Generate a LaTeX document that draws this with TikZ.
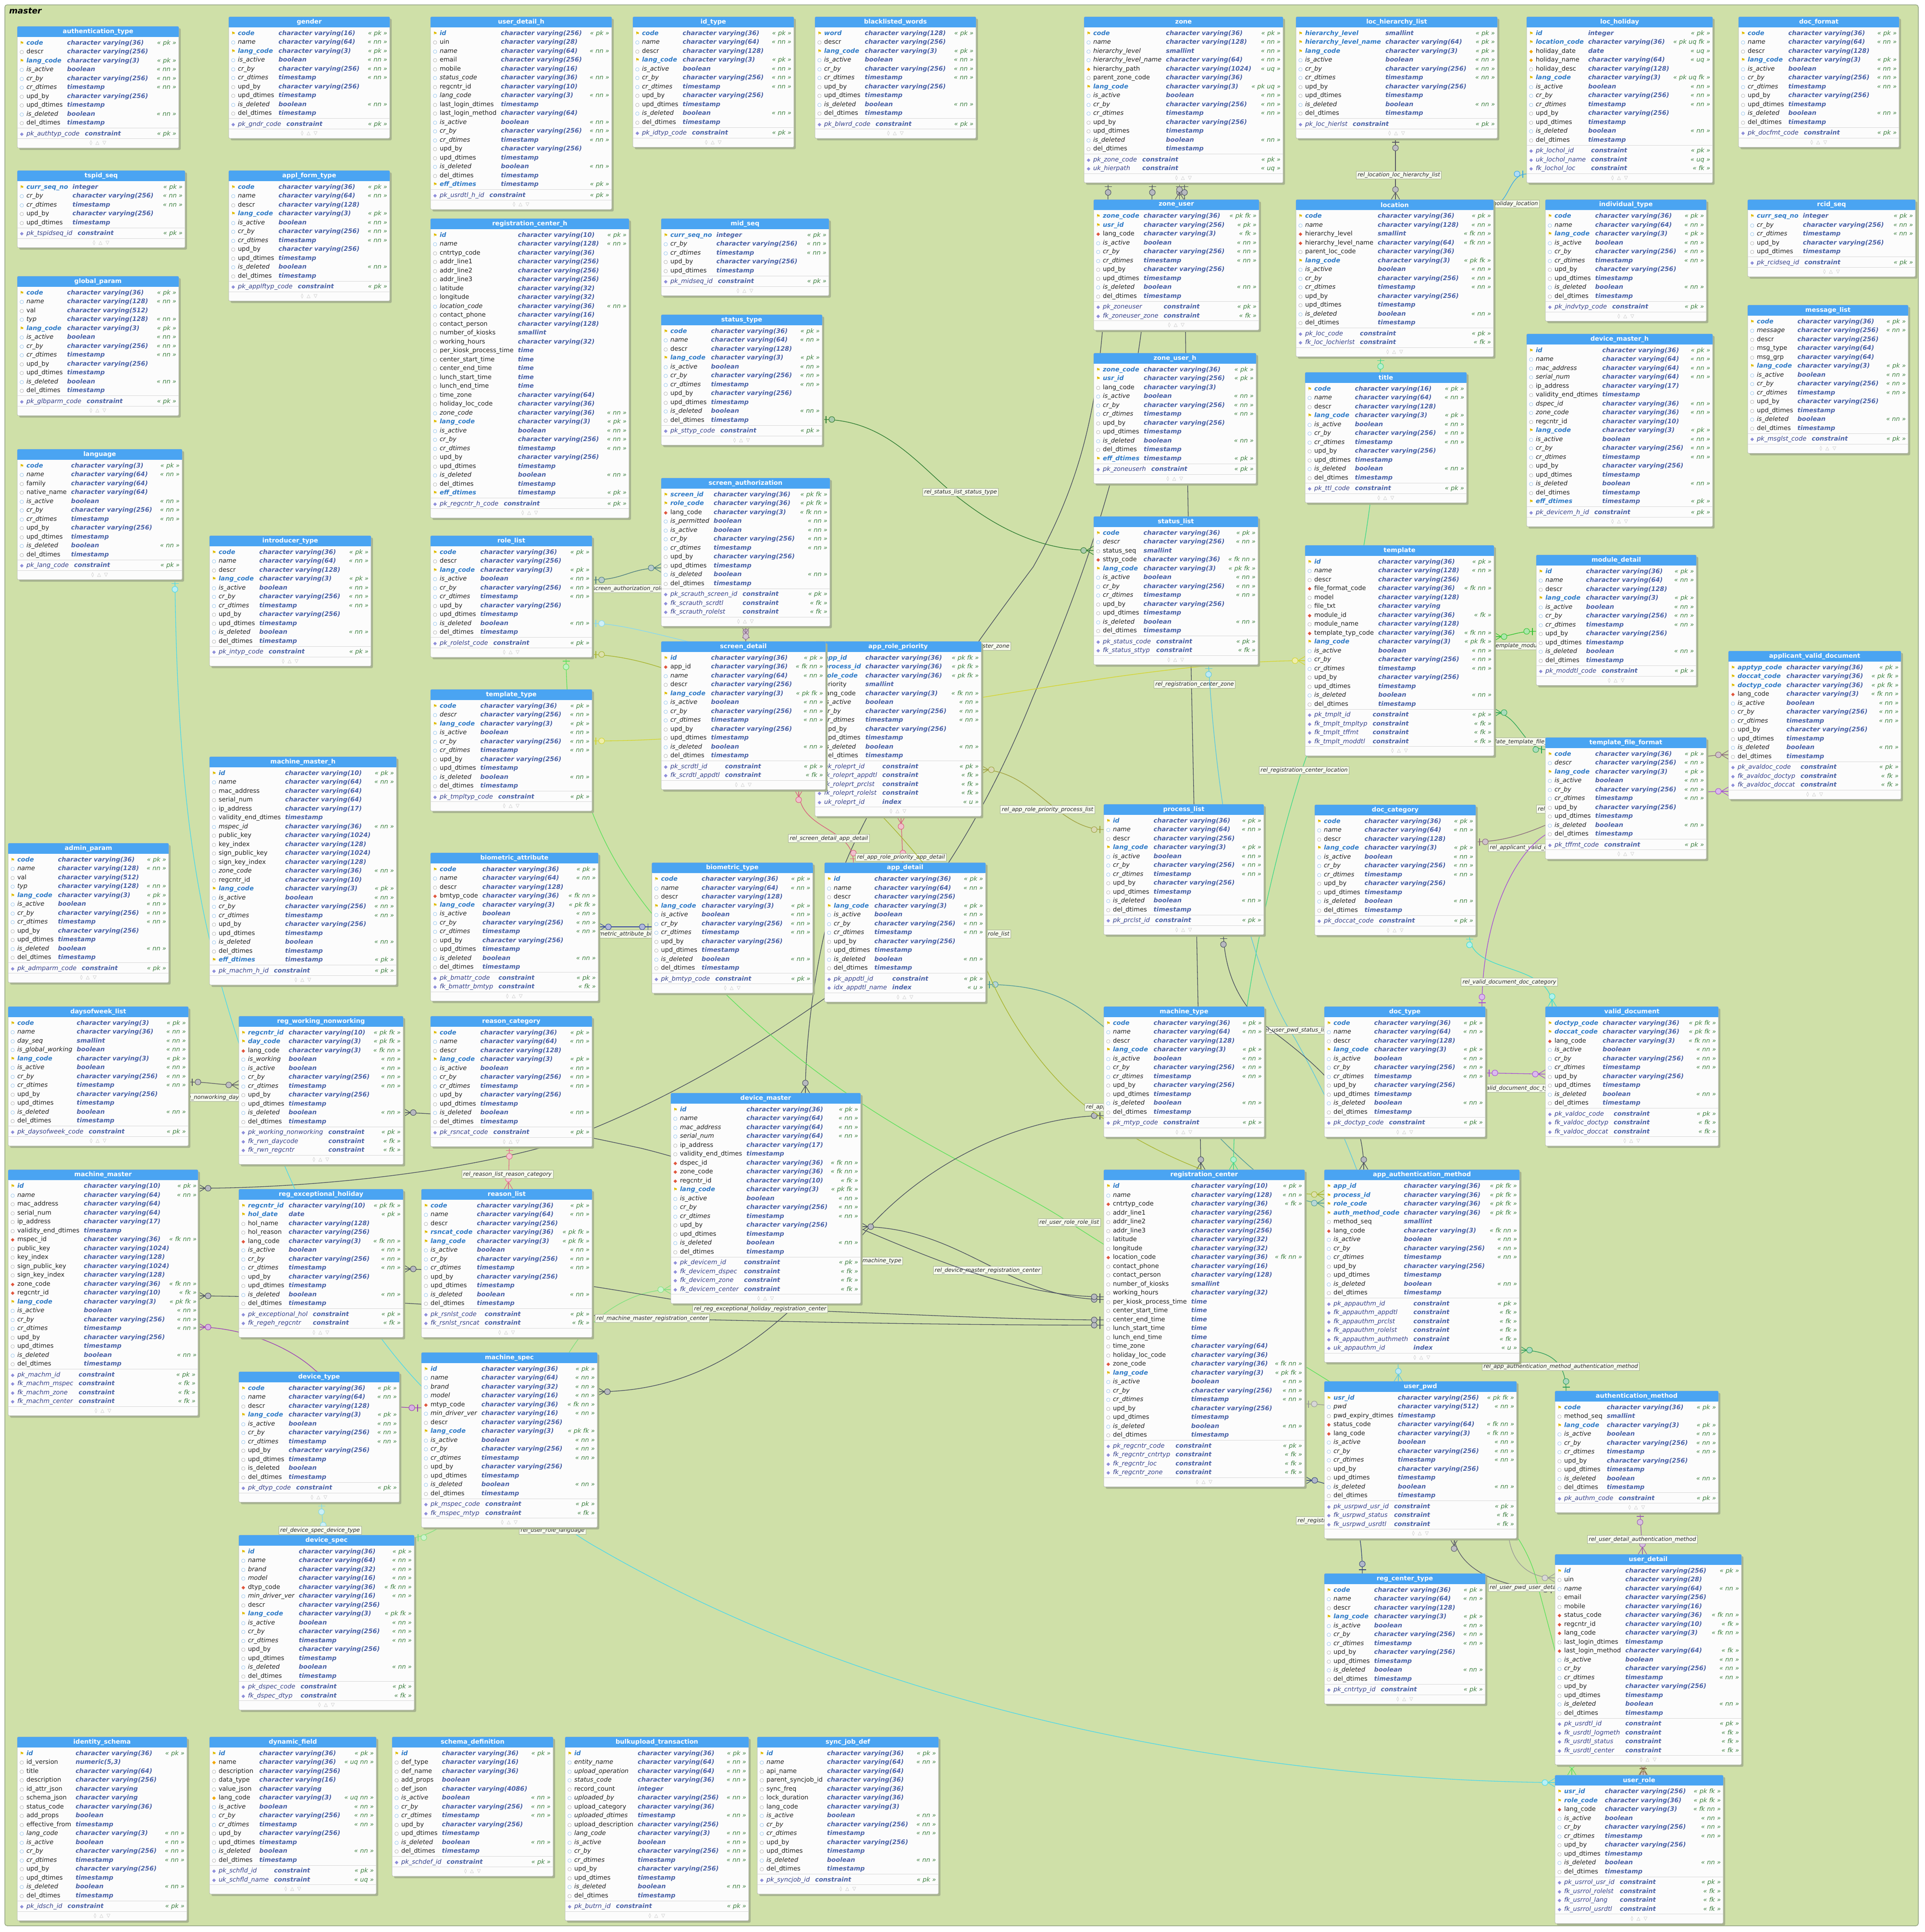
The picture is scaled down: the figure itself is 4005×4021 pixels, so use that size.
\documentclass[tikz,border=0pt]{standalone}
\usepackage{fontspec}
\setmainfont{DejaVu Sans}
\usetikzlibrary{calc}
\pgfdeclarelayer{bg}
\pgfdeclarelayer{conn}
\pgfsetlayers{bg,conn,main}

\definecolor{bgc}{HTML}{CFE0A8}
\definecolor{framec}{HTML}{9AAA88}
\definecolor{hdrc}{HTML}{4AA4F2}
\definecolor{boxb}{HTML}{B4B8B0}
\definecolor{boxf}{HTML}{FCFCFC}
\definecolor{shc}{HTML}{A7B38F}
\definecolor{sepc}{HTML}{D8D8D8}
\definecolor{ftc}{HTML}{B8B8B8}
\definecolor{pkc}{HTML}{2F7BC8}
\definecolor{tyc}{HTML}{4A62A8}
\definecolor{tgc}{HTML}{3D8040}
\definecolor{cnc}{HTML}{34408C}
\definecolor{keyc}{HTML}{E0BC00}
\definecolor{nnc}{HTML}{5CA6E6}
\definecolor{nlc}{HTML}{8C8C8C}
\definecolor{fkc}{HTML}{E0553C}
\definecolor{uqc}{HTML}{F2A600}
\definecolor{csc}{HTML}{8E8EDA}
\definecolor{txc}{HTML}{1E1E1E}
\definecolor{lblb}{HTML}{A8B098}
\definecolor{lblf}{HTML}{F6FAEC}
% connector colours
\definecolor{kGray}{HTML}{5C5C66}
\definecolor{kCyan}{HTML}{38A8E8}
\definecolor{kDark}{HTML}{4A5060}
\definecolor{kGreen}{HTML}{2E7D32}
\definecolor{kTeal}{HTML}{4E7E80}
\definecolor{kMauve}{HTML}{8D6E8E}
\definecolor{kPink}{HTML}{D9607F}
\definecolor{kOlive}{HTML}{A0A040}
\definecolor{kOlivetwo}{HTML}{A8B430}
\definecolor{kYellow}{HTML}{D4D430}
\definecolor{kBright}{HTML}{5EE05E}
\definecolor{kSpring}{HTML}{44D98A}
\definecolor{kGtwo}{HTML}{33C433}
\definecolor{kGthree}{HTML}{2EA858}
\definecolor{kMauvetwo}{HTML}{8A6A7E}
\definecolor{kPurple}{HTML}{A64FD6}
\definecolor{kTurq}{HTML}{3EDDD0}
\definecolor{kCyantwo}{HTML}{5CC8E0}
\definecolor{kGfour}{HTML}{2E9E5E}
\definecolor{kPurpletwo}{HTML}{9A5FB0}
\definecolor{kGfive}{HTML}{5A5A6A}
\definecolor{kBrown}{HTML}{8B6A4A}
\definecolor{kCyanthree}{HTML}{4DD8EA}
\definecolor{kCyanfour}{HTML}{80D8E8}
\definecolor{kLight}{HTML}{80E080}
\definecolor{kPurplethree}{HTML}{9C3FB8}
\definecolor{kPinktwo}{HTML}{E06A8A}
\definecolor{kNavy}{HTML}{3A4AA0}
\definecolor{kTealtwo}{HTML}{4E9A9A}
\definecolor{kNavytwo}{HTML}{3A4A7A}
\definecolor{kGraytwo}{HTML}{9A9A9A}
\definecolor{kCyanfive}{HTML}{88D8F0}

\tikzset{
  box/.style={draw=boxb, fill=boxf, rounded corners=2.5pt, inner sep=0pt, outer sep=0pt, line width=0.8pt},
  htx/.style={text=white, font=\fontsize{13}{15}\selectfont\bfseries, inner sep=0pt},
  rows/.style={anchor=north west, inner sep=0pt, outer sep=0pt, text=txc, font=\fontsize{13}{15}\selectfont},
  ftx/.style={text=ftc, font=\fontsize{10}{12}\selectfont, inner sep=0pt},
  sepl/.style={draw=sepc, line width=0.8pt},
  cn/.style={color=#1, line width=1.3pt},
  lbl/.style={draw=lblb, fill=lblf, text=black!85, font=\fontsize{11.5}{13}\selectfont\itshape, inner xsep=3pt, inner ysep=2.5pt, line width=0.8pt},
  mkcol/.store in=\mkc, mkcol=black,
  pone/.pic={\draw[color=\mkc, line width=1.3pt] (8,-7.5)--(8,7.5); \draw[color=\mkc, fill=\mkc!40, line width=1pt] (20,0) circle (6);},
  pmany/.pic={\draw[color=\mkc, line width=1.2pt] (0,-9)--(15,0)--(0,9) (0,0)--(15,0); \draw[color=\mkc, fill=\mkc!40, line width=1pt] (21,0) circle (6);},
}

\catcode`\_=12

% cell pieces
\newcommand\ico[2]{\makebox[11pt]{\fontsize{10}{10}\selectfont\color{#1}#2}}
\newcommand\ty[1]{{\color{tyc}\bfseries\itshape #1}}
\newcommand\tg[1]{{\color{tgc}\itshape « #1 »}}
\newcommand\sr{\vrule height 13.6pt depth 4.9pt width 0pt}
\newcommand\cv[1]{character varying(#1)}
% rows: key, not null, nullable, foreign key, unique, constraint, index
\newcommand\rk[3]{\sr\ico{keyc}{⚑} & {\color{pkc}\bfseries\itshape #1} & \ty{#2} & \tg{#3}\\}
\newcommand\rn[3]{\sr\ico{nnc}{○} & {\itshape #1} & \ty{#2} & \tg{#3}\\}
\newcommand\ro[2]{\sr\ico{nlc}{○} & #1 & \ty{#2} & \\}
\newcommand\rf[3]{\sr\ico{fkc}{◆} & #1 & \ty{#2} & \tg{#3}\\}
\newcommand\ru[3]{\sr\ico{uqc}{◆} & #1 & \ty{#2} & \tg{#3}\\}
\newcommand\rc[2]{\sr\ico{csc}{◆} & {\color{cnc}\itshape #1} & \ty{constraint} & \tg{#2}\\}
\newcommand\ri[2]{\sr\ico{csc}{◆} & {\color{cnc}\itshape #1} & \ty{index} & \tg{#2}\\}
% audit columns
\newcommand\aud{\rn{is_active}{boolean}{nn}\rn{cr_by}{\cv{256}}{nn}\rn{cr_dtimes}{timestamp}{nn}\ro{upd_by}{\cv{256}}\ro{upd_dtimes}{timestamp}\rn{is_deleted}{boolean}{nn}\ro{del_dtimes}{timestamp}}
\newcommand\auds{\rn{cr_by}{\cv{256}}{nn}\rn{cr_dtimes}{timestamp}{nn}\ro{upd_by}{\cv{256}}\ro{upd_dtimes}{timestamp}}

% table: id, x, y, width, columns, constraints, title, column rows, constraint rows
\newcommand\Tb[9]{%
  \pgfmathsetmacro\tbH{49.5+18.5*(#5+#6)}%
  \pgfmathsetmacro\tbA{24.5+18.5*#5}%
  \pgfmathsetmacro\tbB{24.5+18.5*(#5+#6)+4}%
  \fill[shc, rounded corners=2.5pt] (#2+4,#3+4) rectangle +(#4,\tbH);
  \node[box, minimum width=#4pt, minimum height=\tbH pt, anchor=north west] (#1) at (#2,#3) {};
  \fill[hdrc, rounded corners=2.5pt] (#2,#3) rectangle +(#4,21.5);
  \fill[hdrc] (#2,#3+10) rectangle +(#4,11.5);
  \node[htx] at (#2+#4/2,#3+11) {#7};
  \node[rows] at (#2+4,#3+24.5) {\begin{tabular*}{\dimexpr#4pt-9pt\relax}{@{}l@{\hspace{4pt}}l@{\hspace{9pt}}l@{\extracolsep{\fill}}r@{}}#8\end{tabular*}};
  \draw[sepl] (#2,#3+\tbA+2) -- +(#4,0);
  \node[rows] at (#2+4,#3+\tbA+4) {\begin{tabular*}{\dimexpr#4pt-9pt\relax}{@{}l@{\hspace{4pt}}l@{\hspace{11pt}}l@{\extracolsep{\fill}}r@{}}#9\end{tabular*}};
  \draw[sepl] (#2,#3+\tbB+1.5) -- +(#4,0);
  \node[ftx] at (#2+#4/2,#3+\tbH-10) {◊\hspace{7pt}△\hspace{7pt}▽};
}

% relation: colour, parent end, parent angle, child end, child angle, path
\newcommand\cx[6]{\draw[cn=#1] (#2) #6 (#4);\pic[mkcol=#1,rotate=#3] at (#2) {pone};\pic[mkcol=#1,rotate=#5] at (#4) {pmany};}

\begin{document}
\begin{tikzpicture}[x=1pt,y=-1pt]
\useasboundingbox (0,0) rectangle (4005,4021);
\begin{pgfonlayer}{bg}
\fill[white] (0,0) rectangle (4005,4021);
\filldraw[fill=bgc, draw=framec, line width=1.5pt, rounded corners=5pt] (10,10) rectangle (3992,4008);
\end{pgfonlayer}
\node[anchor=west, font=\fontsize{17}{20}\selectfont\bfseries\itshape, inner sep=0pt] (schemaname) at (19,22.5) {master};

% ---------------- tables ----------------
\Tb{authtype}{36}{55}{336}{10}{1}{authentication_type}{\rk{code}{\cv{36}}{pk}\ro{descr}{\cv{256}}\rk{lang_code}{\cv{3}}{pk}\aud}{\rc{pk_authtyp_code}{pk}}
\Tb{gender}{476}{35}{335}{10}{1}{gender}{\rk{code}{\cv{16}}{pk}\rn{name}{\cv{64}}{nn}\rk{lang_code}{\cv{3}}{pk}\aud}{\rc{pk_gndr_code}{pk}}
\Tb{udh}{896}{35}{377}{18}{1}{user_detail_h}{\rk{id}{\cv{256}}{pk}\ro{uin}{\cv{28}}\rn{name}{\cv{64}}{nn}\ro{email}{\cv{256}}\ro{mobile}{\cv{16}}\rn{status_code}{\cv{36}}{nn}\ro{regcntr_id}{\cv{10}}\rn{lang_code}{\cv{3}}{nn}\ro{last_login_dtimes}{timestamp}\ro{last_login_method}{\cv{64}}\aud\rk{eff_dtimes}{timestamp}{pk}}{\rc{pk_usrdtl_h_id}{pk}}
\Tb{idtype}{1317}{35}{335}{11}{1}{id_type}{\rk{code}{\cv{36}}{pk}\rn{name}{\cv{64}}{nn}\ro{descr}{\cv{128}}\rk{lang_code}{\cv{3}}{pk}\aud}{\rc{pk_idtyp_code}{pk}}
\Tb{blw}{1696}{35}{335}{10}{1}{blacklisted_words}{\rk{word}{\cv{128}}{pk}\ro{descr}{\cv{256}}\rk{lang_code}{\cv{3}}{pk}\aud}{\rc{pk_blwrd_code}{pk}}
\Tb{zone}{2256}{35}{414}{14}{2}{zone}{\rk{code}{\cv{36}}{pk}\rn{name}{\cv{128}}{nn}\rn{hierarchy_level}{smallint}{nn}\rn{hierarchy_level_name}{\cv{64}}{nn}\ru{hierarchy_path}{\cv{1024}}{uq}\ro{parent_zone_code}{\cv{36}}\rk{lang_code}{\cv{3}}{pk uq}\aud}{\rc{pk_zone_code}{pk}\rc{uk_hierpath}{uq}}
\Tb{lhl}{2697}{35}{419}{10}{1}{loc_hierarchy_list}{\rk{hierarchy_level}{smallint}{pk}\rk{hierarchy_level_name}{\cv{64}}{pk}\rk{lang_code}{\cv{3}}{pk}\aud}{\rc{pk_loc_hierlst}{pk}}
\Tb{lochol}{3177}{35}{387}{13}{3}{loc_holiday}{\rk{id}{integer}{pk}\rk{location_code}{\cv{36}}{pk uq fk}\ru{holiday_date}{date}{uq}\ru{holiday_name}{\cv{64}}{uq}\ro{holiday_desc}{\cv{128}}\rk{lang_code}{\cv{3}}{pk uq fk}\aud}{\rc{pk_lochol_id}{pk}\rc{uk_lochol_name}{uq}\rc{fk_lochol_loc}{fk}}
\Tb{docfmt}{3618}{35}{334}{11}{1}{doc_format}{\rk{code}{\cv{36}}{pk}\rn{name}{\cv{64}}{nn}\ro{descr}{\cv{128}}\rk{lang_code}{\cv{3}}{pk}\aud}{\rc{pk_docfmt_code}{pk}}
\Tb{tspid}{36}{355}{349}{5}{1}{tspid_seq}{\rk{curr_seq_no}{integer}{pk}\auds}{\rc{pk_tspidseq_id}{pk}}
\Tb{aft}{476}{355}{335}{11}{1}{appl_form_type}{\rk{code}{\cv{36}}{pk}\rn{name}{\cv{64}}{nn}\ro{descr}{\cv{128}}\rk{lang_code}{\cv{3}}{pk}\aud}{\rc{pk_applftyp_code}{pk}}
\Tb{rch}{896}{455}{413}{30}{1}{registration_center_h}{\rk{id}{\cv{10}}{pk}\rn{name}{\cv{128}}{nn}\ro{cntrtyp_code}{\cv{36}}\ro{addr_line1}{\cv{256}}\ro{addr_line2}{\cv{256}}\ro{addr_line3}{\cv{256}}\ro{latitude}{\cv{32}}\ro{longitude}{\cv{32}}\rn{location_code}{\cv{36}}{nn}\ro{contact_phone}{\cv{16}}\ro{contact_person}{\cv{128}}\ro{number_of_kiosks}{smallint}\ro{working_hours}{\cv{32}}\ro{per_kiosk_process_time}{time}\ro{center_start_time}{time}\ro{center_end_time}{time}\ro{lunch_start_time}{time}\ro{lunch_end_time}{time}\ro{time_zone}{\cv{64}}\ro{holiday_loc_code}{\cv{36}}\rn{zone_code}{\cv{36}}{nn}\rk{lang_code}{\cv{3}}{pk}\aud\rk{eff_dtimes}{timestamp}{pk}}{\rc{pk_regcntr_h_code}{pk}}
\Tb{glp}{36}{575}{336}{12}{1}{global_param}{\rk{code}{\cv{36}}{pk}\rn{name}{\cv{128}}{nn}\ro{val}{\cv{512}}\rn{typ}{\cv{128}}{nn}\rk{lang_code}{\cv{3}}{pk}\aud}{\rc{pk_glbparm_code}{pk}}
\Tb{lang}{36}{935}{343}{11}{1}{language}{\rk{code}{\cv{3}}{pk}\rn{name}{\cv{64}}{nn}\ro{family}{\cv{64}}\ro{native_name}{\cv{64}}\aud}{\rc{pk_lang_code}{pk}}
\Tb{midseq}{1376}{455}{349}{5}{1}{mid_seq}{\rk{curr_seq_no}{integer}{pk}\auds}{\rc{pk_midseq_id}{pk}}
\Tb{sttyp}{1376}{655}{335}{11}{1}{status_type}{\rk{code}{\cv{36}}{pk}\rn{name}{\cv{64}}{nn}\ro{descr}{\cv{128}}\rk{lang_code}{\cv{3}}{pk}\aud}{\rc{pk_sttyp_code}{pk}}
\Tb{zu}{2276}{415.5}{344}{10}{2}{zone_user}{\rk{zone_code}{\cv{36}}{pk fk}\rk{usr_id}{\cv{256}}{pk}\rf{lang_code}{\cv{3}}{fk}\aud}{\rc{pk_zoneuser}{pk}\rc{fk_zoneuser_zone}{fk}}
\Tb{zuh}{2276}{735}{338}{11}{1}{zone_user_h}{\rk{zone_code}{\cv{36}}{pk}\rk{usr_id}{\cv{256}}{pk}\ro{lang_code}{\cv{3}}\aud\rk{eff_dtimes}{timestamp}{pk}}{\rc{pk_zoneuserh}{pk}}
\Tb{loc}{2697}{415.5}{411}{13}{2}{location}{\rk{code}{\cv{36}}{pk}\rn{name}{\cv{128}}{nn}\rf{hierarchy_level}{smallint}{fk nn}\rf{hierarchy_level_name}{\cv{64}}{fk nn}\ro{parent_loc_code}{\cv{36}}\rk{lang_code}{\cv{3}}{pk fk}\aud}{\rc{pk_loc_code}{pk}\rc{fk_loc_lochierlst}{fk}}
\Tb{indtyp}{3216}{415.5}{335}{10}{1}{individual_type}{\rk{code}{\cv{36}}{pk}\rn{name}{\cv{64}}{nn}\rk{lang_code}{\cv{3}}{pk}\aud}{\rc{pk_indvtyp_code}{pk}}
\Tb{rcid}{3637}{415.5}{349}{5}{1}{rcid_seq}{\rk{curr_seq_no}{integer}{pk}\auds}{\rc{pk_rcidseq_id}{pk}}
\Tb{msg}{3637}{635}{334}{13}{1}{message_list}{\rk{code}{\cv{36}}{pk}\rn{message}{\cv{256}}{nn}\ro{descr}{\cv{256}}\ro{msg_type}{\cv{64}}\ro{msg_grp}{\cv{64}}\rk{lang_code}{\cv{3}}{pk}\aud}{\rc{pk_msglst_code}{pk}}
\Tb{title}{2716}{775}{336}{11}{1}{title}{\rk{code}{\cv{16}}{pk}\rn{name}{\cv{64}}{nn}\ro{descr}{\cv{128}}\rk{lang_code}{\cv{3}}{pk}\aud}{\rc{pk_ttl_code}{pk}}
\Tb{dmh}{3177}{695}{387}{18}{1}{device_master_h}{\rk{id}{\cv{36}}{pk}\rn{name}{\cv{64}}{nn}\rn{mac_address}{\cv{64}}{nn}\rn{serial_num}{\cv{64}}{nn}\ro{ip_address}{\cv{17}}\ro{validity_end_dtimes}{timestamp}\rn{dspec_id}{\cv{36}}{nn}\rn{zone_code}{\cv{36}}{nn}\ro{regcntr_id}{\cv{10}}\rk{lang_code}{\cv{3}}{pk}\aud\rk{eff_dtimes}{timestamp}{pk}}{\rc{pk_devicem_h_id}{pk}}
\Tb{intyp}{436}{1115}{336}{11}{1}{introducer_type}{\rk{code}{\cv{36}}{pk}\rn{name}{\cv{64}}{nn}\ro{descr}{\cv{128}}\rk{lang_code}{\cv{3}}{pk}\aud}{\rc{pk_intyp_code}{pk}}
\Tb{role}{896}{1115}{336}{10}{1}{role_list}{\rk{code}{\cv{36}}{pk}\ro{descr}{\cv{256}}\rk{lang_code}{\cv{3}}{pk}\aud}{\rc{pk_rolelst_code}{pk}}
\Tb{tmpltyp}{896}{1435}{336}{10}{1}{template_type}{\rk{code}{\cv{36}}{pk}\rn{descr}{\cv{256}}{nn}\rk{lang_code}{\cv{3}}{pk}\aud}{\rc{pk_tmpltyp_code}{pk}}
\Tb{mmh}{436}{1575}{389}{22}{1}{machine_master_h}{\rk{id}{\cv{10}}{pk}\rn{name}{\cv{64}}{nn}\ro{mac_address}{\cv{64}}\ro{serial_num}{\cv{64}}\ro{ip_address}{\cv{17}}\ro{validity_end_dtimes}{timestamp}\rn{mspec_id}{\cv{36}}{nn}\ro{public_key}{\cv{1024}}\ro{key_index}{\cv{128}}\ro{sign_public_key}{\cv{1024}}\ro{sign_key_index}{\cv{128}}\rn{zone_code}{\cv{36}}{nn}\ro{regcntr_id}{\cv{10}}\rk{lang_code}{\cv{3}}{pk}\aud\rk{eff_dtimes}{timestamp}{pk}}{\rc{pk_machm_h_id}{pk}}
\Tb{admp}{17}{1755}{334}{12}{1}{admin_param}{\rk{code}{\cv{36}}{pk}\rn{name}{\cv{128}}{nn}\ro{val}{\cv{512}}\rn{typ}{\cv{128}}{nn}\rk{lang_code}{\cv{3}}{pk}\aud}{\rc{pk_admparm_code}{pk}}
\Tb{bmattr}{896}{1775}{349}{12}{2}{biometric_attribute}{\rk{code}{\cv{36}}{pk}\rn{name}{\cv{64}}{nn}\ro{descr}{\cv{128}}\rf{bmtyp_code}{\cv{36}}{fk nn}\rk{lang_code}{\cv{3}}{pk fk}\aud}{\rc{pk_bmattr_code}{pk}\rc{fk_bmattr_bmtyp}{fk}}
\Tb{scrauth}{1376}{995}{351}{11}{3}{screen_authorization}{\rk{screen_id}{\cv{36}}{pk fk}\rk{role_code}{\cv{36}}{pk fk}\rf{lang_code}{\cv{3}}{fk nn}\rn{is_permitted}{boolean}{nn}\aud}{\rc{pk_scrauth_screen_id}{pk}\rc{fk_scrauth_scrdtl}{fk}\rc{fk_scrauth_rolelst}{fk}}
\Tb{arp}{1696}{1335}{346}{12}{5}{app_role_priority}{\rk{app_id}{\cv{36}}{pk fk}\rk{process_id}{\cv{36}}{pk fk}\rk{role_code}{\cv{36}}{pk fk}\ro{priority}{smallint}\rf{lang_code}{\cv{3}}{fk nn}\aud}{\rc{pk_roleprt_id}{pk}\rc{fk_roleprt_appdtl}{fk}\rc{fk_roleprt_prclst}{fk}\rc{fk_roleprt_rolelst}{fk}\ri{uk_roleprt_id}{u}}
\Tb{scrdtl}{1376}{1335}{342}{12}{2}{screen_detail}{\rk{id}{\cv{36}}{pk}\rf{app_id}{\cv{36}}{fk nn}\rn{name}{\cv{64}}{nn}\ro{descr}{\cv{256}}\rk{lang_code}{\cv{3}}{pk fk}\aud}{\rc{pk_scrdtl_id}{pk}\rc{fk_scrdtl_appdtl}{fk}}
\Tb{stl}{2276}{1075}{342}{12}{2}{status_list}{\rk{code}{\cv{36}}{pk}\rn{descr}{\cv{256}}{nn}\ro{status_seq}{smallint}\rf{sttyp_code}{\cv{36}}{fk nn}\rk{lang_code}{\cv{3}}{pk fk}\aud}{\rc{pk_status_code}{pk}\rc{fk_status_sttyp}{fk}}
\Tb{prc}{2297}{1674}{333}{11}{1}{process_list}{\rk{id}{\cv{36}}{pk}\rn{name}{\cv{64}}{nn}\ro{descr}{\cv{256}}\rk{lang_code}{\cv{3}}{pk}\aud}{\rc{pk_prclst_id}{pk}}
\Tb{bmtyp}{1356.5}{1795.5}{335}{11}{1}{biometric_type}{\rk{code}{\cv{36}}{pk}\rn{name}{\cv{64}}{nn}\ro{descr}{\cv{128}}\rk{lang_code}{\cv{3}}{pk}\aud}{\rc{pk_bmtyp_code}{pk}}
\Tb{appdtl}{1716}{1795.5}{335}{11}{2}{app_detail}{\rk{id}{\cv{36}}{pk}\rn{name}{\cv{64}}{nn}\ro{descr}{\cv{256}}\rk{lang_code}{\cv{3}}{pk}\aud}{\rc{pk_appdtl_id}{pk}\ri{idx_appdtl_name}{u}}
\Tb{tmpl}{2716}{1135}{393}{17}{4}{template}{\rk{id}{\cv{36}}{pk}\rn{name}{\cv{128}}{nn}\ro{descr}{\cv{256}}\rf{file_format_code}{\cv{36}}{fk nn}\ro{model}{\cv{128}}\ro{file_txt}{character varying}\rf{module_id}{\cv{36}}{fk}\ro{module_name}{\cv{128}}\rf{template_typ_code}{\cv{36}}{fk nn}\rk{lang_code}{\cv{3}}{pk fk}\aud}{\rc{pk_tmplt_id}{pk}\rc{fk_tmplt_tmpltyp}{fk}\rc{fk_tmplt_tffmt}{fk}\rc{fk_tmplt_moddtl}{fk}}
\Tb{moddtl}{3197}{1155}{333}{11}{1}{module_detail}{\rk{id}{\cv{36}}{pk}\rn{name}{\cv{64}}{nn}\ro{descr}{\cv{128}}\rk{lang_code}{\cv{3}}{pk}\aud}{\rc{pk_moddtl_code}{pk}}
\Tb{avd}{3597}{1355}{359}{11}{3}{applicant_valid_document}{\rk{apptyp_code}{\cv{36}}{pk}\rk{doccat_code}{\cv{36}}{pk fk}\rk{doctyp_code}{\cv{36}}{pk fk}\rf{lang_code}{\cv{3}}{fk nn}\aud}{\rc{pk_avaldoc_code}{pk}\rc{fk_avaldoc_doctyp}{fk}\rc{fk_avaldoc_doccat}{fk}}
\Tb{tff}{3216}{1535}{335}{10}{1}{template_file_format}{\rk{code}{\cv{36}}{pk}\rn{descr}{\cv{256}}{nn}\rk{lang_code}{\cv{3}}{pk}\aud}{\rc{pk_tffmt_code}{pk}}
\Tb{doccat}{2736}{1675}{335}{11}{1}{doc_category}{\rk{code}{\cv{36}}{pk}\rn{name}{\cv{64}}{nn}\ro{descr}{\cv{128}}\rk{lang_code}{\cv{3}}{pk}\aud}{\rc{pk_doccat_code}{pk}}
\Tb{dow}{17}{2095}{375}{12}{1}{daysofweek_list}{\rk{code}{\cv{3}}{pk}\rn{name}{\cv{36}}{nn}\rn{day_seq}{smallint}{nn}\rn{is_global_working}{boolean}{nn}\rk{lang_code}{\cv{3}}{pk}\aud}{\rc{pk_daysofweek_code}{pk}}
\Tb{rwn}{497}{2115}{342}{11}{3}{reg_working_nonworking}{\rk{regcntr_id}{\cv{10}}{pk fk}\rk{day_code}{\cv{3}}{pk fk}\rf{lang_code}{\cv{3}}{fk nn}\rn{is_working}{boolean}{nn}\aud}{\rc{pk_working_nonworking}{pk}\rc{fk_rwn_daycode}{fk}\rc{fk_rwn_regcntr}{fk}}
\Tb{rsncat}{896}{2115}{336}{11}{1}{reason_category}{\rk{code}{\cv{36}}{pk}\rn{name}{\cv{64}}{nn}\ro{descr}{\cv{128}}\rk{lang_code}{\cv{3}}{pk}\aud}{\rc{pk_rsncat_code}{pk}}
\Tb{mm}{17}{2434.5}{395}{21}{4}{machine_master}{\rk{id}{\cv{10}}{pk}\rn{name}{\cv{64}}{nn}\ro{mac_address}{\cv{64}}\ro{serial_num}{\cv{64}}\ro{ip_address}{\cv{17}}\ro{validity_end_dtimes}{timestamp}\rf{mspec_id}{\cv{36}}{fk nn}\ro{public_key}{\cv{1024}}\ro{key_index}{\cv{128}}\ro{sign_public_key}{\cv{1024}}\ro{sign_key_index}{\cv{128}}\rf{zone_code}{\cv{36}}{fk nn}\rf{regcntr_id}{\cv{10}}{fk}\rk{lang_code}{\cv{3}}{pk fk}\aud}{\rc{pk_machm_id}{pk}\rc{fk_machm_mspec}{fk}\rc{fk_machm_zone}{fk}\rc{fk_machm_center}{fk}}
\Tb{reh}{497}{2475}{342}{12}{2}{reg_exceptional_holiday}{\rk{regcntr_id}{\cv{10}}{pk fk}\rk{hol_date}{date}{pk}\ro{hol_name}{\cv{128}}\ro{hol_reason}{\cv{256}}\rf{lang_code}{\cv{3}}{fk nn}\aud}{\rc{pk_exceptional_hol}{pk}\rc{fk_regeh_regcntr}{fk}}
\Tb{rsnlst}{877}{2475}{355}{12}{2}{reason_list}{\rk{code}{\cv{36}}{pk}\rn{name}{\cv{64}}{nn}\ro{descr}{\cv{256}}\rk{rsncat_code}{\cv{36}}{pk fk}\rk{lang_code}{\cv{3}}{pk fk}\aud}{\rc{pk_rsnlst_code}{pk}\rc{fk_rsnlst_rsncat}{fk}}
\Tb{dtyp}{497}{2855}{334}{11}{1}{device_type}{\rk{code}{\cv{36}}{pk}\rn{name}{\cv{64}}{nn}\ro{descr}{\cv{128}}\rk{lang_code}{\cv{3}}{pk}\rn{is_active}{boolean}{nn}\rn{cr_by}{\cv{256}}{nn}\rn{cr_dtimes}{timestamp}{nn}\ro{upd_by}{\cv{256}}\ro{upd_dtimes}{timestamp}\ro{is_deleted}{boolean}\ro{del_dtimes}{timestamp}}{\rc{pk_dtyp_code}{pk}}
\Tb{mspec}{877}{2815}{366}{15}{2}{machine_spec}{\rk{id}{\cv{36}}{pk}\rn{name}{\cv{64}}{nn}\rn{brand}{\cv{32}}{nn}\rn{model}{\cv{16}}{nn}\rf{mtyp_code}{\cv{36}}{fk nn}\rn{min_driver_ver}{\cv{16}}{nn}\ro{descr}{\cv{256}}\rk{lang_code}{\cv{3}}{pk fk}\aud}{\rc{pk_mspec_code}{pk}\rc{fk_mspec_mtyp}{fk}}
\Tb{dm}{1396}{2275}{395}{17}{4}{device_master}{\rk{id}{\cv{36}}{pk}\rn{name}{\cv{64}}{nn}\rn{mac_address}{\cv{64}}{nn}\rn{serial_num}{\cv{64}}{nn}\ro{ip_address}{\cv{17}}\ro{validity_end_dtimes}{timestamp}\rf{dspec_id}{\cv{36}}{fk nn}\rf{zone_code}{\cv{36}}{fk nn}\rf{regcntr_id}{\cv{10}}{fk}\rk{lang_code}{\cv{3}}{pk fk}\aud}{\rc{pk_devicem_id}{pk}\rc{fk_devicem_dspec}{fk}\rc{fk_devicem_zone}{fk}\rc{fk_devicem_center}{fk}}
\Tb{mtyp}{2297}{2095}{334}{11}{1}{machine_type}{\rk{code}{\cv{36}}{pk}\rn{name}{\cv{64}}{nn}\ro{descr}{\cv{128}}\rk{lang_code}{\cv{3}}{pk}\aud}{\rc{pk_mtyp_code}{pk}}
\Tb{rc}{2297}{2434.5}{418}{29}{4}{registration_center}{\rk{id}{\cv{10}}{pk}\rn{name}{\cv{128}}{nn}\rf{cntrtyp_code}{\cv{36}}{fk}\ro{addr_line1}{\cv{256}}\ro{addr_line2}{\cv{256}}\ro{addr_line3}{\cv{256}}\ro{latitude}{\cv{32}}\ro{longitude}{\cv{32}}\rf{location_code}{\cv{36}}{fk nn}\ro{contact_phone}{\cv{16}}\ro{contact_person}{\cv{128}}\ro{number_of_kiosks}{smallint}\ro{working_hours}{\cv{32}}\ro{per_kiosk_process_time}{time}\ro{center_start_time}{time}\ro{center_end_time}{time}\ro{lunch_start_time}{time}\ro{lunch_end_time}{time}\ro{time_zone}{\cv{64}}\ro{holiday_loc_code}{\cv{36}}\rf{zone_code}{\cv{36}}{fk nn}\rk{lang_code}{\cv{3}}{pk fk}\aud}{\rc{pk_regcntr_code}{pk}\rc{fk_regcntr_cntrtyp}{fk}\rc{fk_regcntr_loc}{fk}\rc{fk_regcntr_zone}{fk}}
\Tb{doctyp}{2756}{2095}{335}{11}{1}{doc_type}{\rk{code}{\cv{36}}{pk}\rn{name}{\cv{64}}{nn}\ro{descr}{\cv{128}}\rk{lang_code}{\cv{3}}{pk}\aud}{\rc{pk_doctyp_code}{pk}}
\Tb{valdoc}{3216}{2095}{360}{10}{3}{valid_document}{\rk{doctyp_code}{\cv{36}}{pk fk}\rk{doccat_code}{\cv{36}}{pk fk}\rf{lang_code}{\cv{3}}{fk nn}\aud}{\rc{pk_valdoc_code}{pk}\rc{fk_valdoc_doctyp}{fk}\rc{fk_valdoc_doccat}{fk}}
\Tb{aam}{2756}{2434.5}{406}{13}{6}{app_authentication_method}{\rk{app_id}{\cv{36}}{pk fk}\rk{process_id}{\cv{36}}{pk fk}\rk{role_code}{\cv{36}}{pk fk}\rk{auth_method_code}{\cv{36}}{pk fk}\ro{method_seq}{smallint}\rf{lang_code}{\cv{3}}{fk nn}\aud}{\rc{pk_appauthm_id}{pk}\rc{fk_appauthm_appdtl}{fk}\rc{fk_appauthm_prclst}{fk}\rc{fk_appauthm_rolelst}{fk}\rc{fk_appauthm_authmeth}{fk}\ri{uk_appauthm_id}{u}}
\Tb{upwd}{2756}{2875}{400}{12}{3}{user_pwd}{\rk{usr_id}{\cv{256}}{pk fk}\rn{pwd}{\cv{512}}{nn}\ro{pwd_expiry_dtimes}{timestamp}\rf{status_code}{\cv{64}}{fk nn}\rf{lang_code}{\cv{3}}{fk nn}\aud}{\rc{pk_usrpwd_usr_id}{pk}\rc{fk_usrpwd_status}{fk}\rc{fk_usrpwd_usrdtl}{fk}}
\Tb{authm}{3236}{2895}{340}{10}{1}{authentication_method}{\rk{code}{\cv{36}}{pk}\ro{method_seq}{smallint}\rk{lang_code}{\cv{3}}{pk}\aud}{\rc{pk_authm_code}{pk}}
\Tb{rct}{2756}{3275}{335}{11}{1}{reg_center_type}{\rk{code}{\cv{36}}{pk}\rn{name}{\cv{64}}{nn}\ro{descr}{\cv{128}}\rk{lang_code}{\cv{3}}{pk}\aud}{\rc{pk_cntrtyp_id}{pk}}
\Tb{ud}{3236}{3235}{388}{17}{4}{user_detail}{\rk{id}{\cv{256}}{pk}\ro{uin}{\cv{28}}\rn{name}{\cv{64}}{nn}\ro{email}{\cv{256}}\ro{mobile}{\cv{16}}\rf{status_code}{\cv{36}}{fk nn}\rf{regcntr_id}{\cv{10}}{fk}\rf{lang_code}{\cv{3}}{fk nn}\ro{last_login_dtimes}{timestamp}\rf{last_login_method}{\cv{64}}{fk}\aud}{\rc{pk_usrdtl_id}{pk}\rc{fk_usrdtl_logmeth}{fk}\rc{fk_usrdtl_status}{fk}\rc{fk_usrdtl_center}{fk}}
\Tb{ur}{3236}{3694.7}{350}{10}{4}{user_role}{\rk{usr_id}{\cv{256}}{pk fk}\rk{role_code}{\cv{36}}{pk fk}\rf{lang_code}{\cv{3}}{fk nn}\aud}{\rc{pk_usrrol_usr_id}{pk}\rc{fk_usrrol_rolelst}{fk}\rc{fk_usrrol_lang}{fk}\rc{fk_usrrol_usrdtl}{fk}}
\Tb{dspec}{497}{3195}{365}{15}{2}{device_spec}{\rk{id}{\cv{36}}{pk}\rn{name}{\cv{64}}{nn}\rn{brand}{\cv{32}}{nn}\rn{model}{\cv{16}}{nn}\rf{dtyp_code}{\cv{36}}{fk nn}\rn{min_driver_ver}{\cv{16}}{nn}\ro{descr}{\cv{256}}\rk{lang_code}{\cv{3}}{pk fk}\aud}{\rc{pk_dspec_code}{pk}\rc{fk_dspec_dtyp}{fk}}
\Tb{idsch}{36}{3615}{353}{17}{1}{identity_schema}{\rk{id}{\cv{36}}{pk}\ro{id_version}{numeric(5,3)}\ro{title}{\cv{64}}\ro{description}{\cv{256}}\ro{id_attr_json}{character varying}\ro{schema_json}{character varying}\ro{status_code}{\cv{36}}\ro{add_props}{boolean}\ro{effective_from}{timestamp}\rn{lang_code}{\cv{3}}{nn}\aud}{\rc{pk_idsch_id}{pk}}
\Tb{dynf}{436}{3615}{347}{13}{2}{dynamic_field}{\rk{id}{\cv{36}}{pk}\ru{name}{\cv{36}}{uq nn}\ro{description}{\cv{256}}\ro{data_type}{\cv{16}}\ro{value_json}{character varying}\ru{lang_code}{\cv{3}}{uq nn}\aud}{\rc{pk_schfld_id}{pk}\rc{uk_schfld_name}{uq}}
\Tb{schdef}{816}{3615}{335}{12}{1}{schema_definition}{\rk{id}{\cv{36}}{pk}\ro{def_type}{\cv{16}}\ro{def_name}{\cv{36}}\ro{add_props}{boolean}\ro{def_json}{\cv{4086}}\aud}{\rc{pk_schdef_id}{pk}}
\Tb{bulk}{1176}{3615}{382}{17}{1}{bulkupload_transaction}{\rk{id}{\cv{36}}{pk}\rn{entity_name}{\cv{64}}{nn}\rn{upload_operation}{\cv{64}}{nn}\rn{status_code}{\cv{36}}{nn}\ro{record_count}{integer}\rn{uploaded_by}{\cv{256}}{nn}\ro{upload_category}{\cv{36}}\rn{uploaded_dtimes}{timestamp}{nn}\ro{upload_description}{\cv{256}}\rn{lang_code}{\cv{3}}{nn}\aud}{\rc{pk_butrn_id}{pk}}
\Tb{sync}{1576}{3615}{377}{14}{1}{sync_job_def}{\rk{id}{\cv{36}}{pk}\rn{name}{\cv{64}}{nn}\ro{api_name}{\cv{64}}\ro{parent_syncjob_id}{\cv{36}}\ro{sync_freq}{\cv{36}}\ro{lock_duration}{\cv{36}}\ro{lang_code}{\cv{3}}\aud}{\rc{pk_syncjob_id}{pk}}

% ---------------- relations ----------------
\begin{pgfonlayer}{conn}
\cx{kGray}{$(lhl.south west)+(207,0)$}{-90}{$(loc.north west)+(207,0)$}{90}{--}
\node[lbl] at (2911,364.6) {rel_location_loc_hierarchy_list};

\cx{kCyan}{$(lochol.north west)+(0,327)$}{180}{$(loc.north east)+(0,10)$}{0}{.. controls (3140,362) and (3140,425) ..}
\node[lbl, anchor=east] at (3204,424.5) {rel_loc_holiday_location};

\cx{kGray}{$(zone.south west)+(198.5,0)$}{-90}{$(zu.north west)+(178.5,0)$}{90}{--}

\cx{kDark}{$(zone.south west)+(50,0)$}{-90}{$(dm.north west)+(280,0)$}{90}{.. controls (2303,750) and (2280,950) .. (2150,1180) .. controls (2060,1300) and (1800,1650) .. (1740,1850) .. controls (1700,1980) and (1676,2150) ..}
\node[lbl, anchor=east] at (2104,1345) {rel_device_master_zone};

\cx{kDark}{$(zone.south west)+(142,0)$}{-90}{$(mm.north east)+(0,38.5)$}{0}{.. controls (2390,800) and (2300,1100) .. (2150,1450) .. controls (2050,1700) and (1900,1950) .. (1716,2078) .. controls (1500,2230) and (1300,2330) .. (1132,2387) .. controls (900,2450) and (600,2473) ..}

\cx{kDark}{$(zone.south west)+(209,0)$}{-90}{$(rc.north west)+(202,0)$}{90}{.. controls (2466,1000) and (2490,1800) ..}
\node[lbl] at (2486,1424.5) {rel_registration_center_zone};

\cx{kGreen}{$(sttyp.north east)+(0,218)$}{0}{$(stl.north west)+(0,70.6)$}{180}{.. controls (1850,873) and (1920,980) .. (2000,1040) .. controls (2090,1110) and (2180,1146) ..}
\node[lbl] at (1999,1024.5) {rel_status_list_status_type};

\cx{kTeal}{$(role.north east)+(0,92)$}{0}{$(scrauth.north west)+(0,187)$}{180}{.. controls (1300,1207) and (1310,1182) ..}
\node[lbl] at (1308,1225) {rel_screen_authorization_role_list};

\cx{kCyanfive}{$(role.north east)+(0,182.6)$}{0}{$(arp.north west)+(0,65)$}{180}{.. controls (1300,1297) and (1400,1330) ..}

\cx{kMauve}{$(scrdtl.north west)+(176,0)$}{90}{$(scrauth.south west)+(176,0)$}{-90}{--}

\cx{kPink}{$(appdtl.north west)+(60,0)$}{90}{$(scrdtl.south west)+(286,0)$}{-90}{.. controls (1776,1720) and (1662,1730) ..}
\node[lbl] at (1725,1745) {rel_screen_detail_app_detail};

\cx{kPink}{$(appdtl.north west)+(163,0)$}{90}{$(arp.south west)+(179,0)$}{-90}{--}
\node[lbl] at (1875,1784.5) {rel_app_role_priority_app_detail};

\cx{kOlive}{$(prc.north west)+(0,52.6)$}{180}{$(arp.north east)+(0,267)$}{0}{.. controls (2200,1726) and (2150,1602) ..}
\node[lbl] at (2180,1685) {rel_app_role_priority_process_list};

\cx{kYellow}{$(tmpltyp.north east)+(0,107)$}{0}{$(tmpl.north west)+(0,240)$}{180}{.. controls (1700,1545) and (2300,1375) ..}

\cx{kBright}{$(role.south west)+(282,0)$}{-90}{$(ur.north west)+(35,0)$}{90}{.. controls (1180,1750) and (1350,1900) .. (1506,2065) .. controls (1800,2350) and (2050,2430) .. (2225,2544) .. controls (2700,2850) and (3150,3050) .. (3200,3300) .. controls (3240,3450) and (3271,3550) ..}
\node[lbl] at (2225,2544.5) {rel_user_role_role_list};

\cx{kSpring}{$(loc.south west)+(176,0)$}{-90}{$(rc.north west)+(270,0)$}{90}{.. controls (2865,1200) and (2760,1450) .. (2710,1600) .. controls (2640,1820) and (2567,2150) ..}
\node[lbl] at (2714,1603.6) {rel_registration_center_location};

\cx{kGtwo}{$(moddtl.north west)+(0,159)$}{180}{$(tmpl.north east)+(0,190)$}{0}{.. controls (3150,1314) and (3150,1325) ..}
\node[lbl, anchor=west] at (3084,1344.6) {rel_template_module_detail};

\cx{kGthree}{$(tff.north west)+(0,25)$}{180}{$(tmpl.north east)+(0,348)$}{0}{.. controls (3170,1560) and (3160,1483) ..}
\node[lbl, anchor=west] at (3057,1544) {rel_template_template_file_format};

\cx{kMauvetwo}{$(doccat.north east)+(0,77)$}{0}{$(avd.north west)+(0,216)$}{180}{.. controls (3250,1752) and (3400,1571) ..}
\node[lbl, anchor=west] at (3097,1764.6) {rel_applicant_valid_document_doc_category};

\cx{kPurple}{$(doctyp.north west)+(328,0)$}{90}{$(avd.north west)+(0,292)$}{180}{.. controls (3084,1900) and (3160,1760) .. (3230,1730) .. controls (3350,1680) and (3450,1647) ..}
\node[lbl, anchor=west] at (3197,1684) {rel_applicant_valid_document_doc_type};

\cx{kTurq}{$(doccat.south west)+(322,0)$}{-90}{$(valdoc.north west)+(14,0)$}{90}{.. controls (3058,2030) and (3230,2000) ..}
\node[lbl] at (3141,2044) {rel_valid_document_doc_category};

\cx{kPurple}{$(doctyp.north east)+(0,138)$}{0}{$(valdoc.north west)+(0,140.5)$}{180}{--}
\node[lbl, anchor=west] at (3062,2265) {rel_valid_document_doc_type};

\cx{kCyantwo}{$(stl.south west)+(239,0)$}{-90}{$(upwd.north west)+(154,0)$}{90}{.. controls (2540,1800) and (2620,2050) .. (2694,2160) .. controls (2800,2350) and (2910,2600) ..}
\node[lbl, anchor=west] at (2623,2144.4) {rel_user_pwd_status_list};

\cx{kGfour}{$(authm.north west)+(23,0)$}{90}{$(aam.north east)+(0,375.5)$}{0}{.. controls (3259,2830) and (3220,2810) ..}
\node[lbl] at (3248,2844) {rel_app_authentication_method_authentication_method};

\cx{kPurpletwo}{$(authm.south west)+(177,0)$}{-90}{$(ud.north west)+(182,0)$}{90}{--}
\node[lbl] at (3418,3204) {rel_user_detail_authentication_method};

\cx{kGfive}{$(ud.north west)+(0,73)$}{180}{$(upwd.south west)+(270,0)$}{-90}{.. controls (3150,3308) and (3040,3280) ..}
\node[lbl, anchor=west] at (3096.6,3304.6) {rel_user_pwd_user_detail};

\cx{kBrown}{$(ud.south west)+(183.5,0)$}{-90}{$(ur.north west)+(183.5,0)$}{90}{--}

\cx{kCyanthree}{$(lang.south west)+(328,0)$}{-90}{$(ur.north west)+(0,15.3)$}{180}{.. controls (370,1700) and (420,1900) .. (460,2049) .. controls (560,2400) and (700,2700) .. (877,2885) .. controls (1050,3080) and (1150,3170) .. (1250,3225) .. controls (1900,3600) and (2700,3705) ..}
\node[lbl] at (1150,3185) {rel_user_role_language};

\cx{kCyanfour}{$(dtyp.south west)+(172,0)$}{-90}{$(dspec.north west)+(175.6,0)$}{90}{--}
\node[lbl] at (666,3185) {rel_device_spec_device_type};

\cx{kLight}{$(dspec.north east)+(0,5)$}{0}{$(dm.north west)+(0,409)$}{180}{.. controls (1000,3180) and (1150,2850) .. (1209,2780) .. controls (1260,2720) and (1330,2684) ..}

\cx{kDark}{$(mtyp.north west)+(0,227)$}{180}{$(mspec.north east)+(0,81.5)$}{0}{.. controls (2150,2322) and (1950,2400) .. (1810,2553) .. controls (1650,2735) and (1500,2896) ..}
\node[lbl, anchor=east] at (1879,2624.5) {rel_machine_spec_machine_type};

\cx{kDark}{$(rc.north west)+(0,270)$}{180}{$(dm.north east)+(0,278)$}{0}{.. controls (2100,2704) and (2000,2553) ..}
\node[lbl] at (2055,2644) {rel_device_master_registration_center};

\cx{kDark}{$(rc.north west)+(0,323.5)$}{180}{$(mm.north east)+(0,262.5)$}{0}{.. controls (2100,2758) and (1800,2755) .. (1360,2744) .. controls (1200,2740) and (800,2700) ..}
\node[lbl, anchor=west] at (1238,2744) {rel_machine_master_registration_center};

\cx{kDark}{$(rc.north west)+(0,312.5)$}{180}{$(reh.north east)+(0,166)$}{0}{.. controls (2100,2747) and (1900,2735) .. (1582,2724) .. controls (1400,2720) and (1200,2650) ..}
\node[lbl] at (1582,2724) {rel_reg_exceptional_holiday_registration_center};

\cx{kDark}{$(rc.north west)+(0,264.5)$}{180}{$(rwn.north east)+(0,200.5)$}{0}{.. controls (2000,2699) and (1700,2480) .. (1335,2390) .. controls (1150,2350) and (1000,2320) ..}

\cx{kGray}{$(dow.north east)+(0,157)$}{0}{$(rwn.north west)+(0,143)$}{180}{.. controls (440,2252) and (450,2258) ..}
\node[lbl, anchor=west] at (303,2284) {rel_reg_working_nonworking_daysofweek_list};

\cx{kPurplethree}{$(mspec.north west)+(0,115)$}{180}{$(mm.north east)+(0,327.5)$}{0}{.. controls (800,2930) and (750,2920) .. (656,2852) .. controls (600,2800) and (500,2762) ..}

\cx{kPinktwo}{$(rsncat.south west)+(164,0)$}{-90}{$(rsnlst.north west)+(181,0)$}{90}{--}
\node[lbl] at (1056,2444) {rel_reason_list_reason_category};

\cx{kNavy}{$(bmtyp.north west)+(0,133.5)$}{180}{$(bmattr.north east)+(0,154)$}{0}{--}
\node[lbl, anchor=west] at (1205,1944) {rel_biometric_attribute_biometric_type};

\cx{kTealtwo}{$(appdtl.north east)+(0,253.5)$}{0}{$(aam.north west)+(0,69.5)$}{180}{.. controls (2200,2049) and (2250,2100) .. (2297,2137) .. controls (2500,2300) and (2620,2504) ..}
\node[lbl, anchor=east] at (2104,1944) {rel_app_role_priority_role_list};

\cx{kDark}{$(prc.south west)+(249,0)$}{-90}{$(aam.north west)+(82,0)$}{90}{.. controls (2550,2050) and (2600,2110) .. (2640,2140) .. controls (2760,2230) and (2838,2300) ..}

\cx{kOlivetwo}{$(role.north east)+(0,247)$}{0}{$(aam.north west)+(0,51.5)$}{180}{.. controls (1550,1375) and (1950,1750) .. (2050,2010) .. controls (2120,2180) and (2230,2290) .. (2300,2330) .. controls (2450,2430) and (2620,2486) ..}
\node[lbl, anchor=west] at (2257,2304.4) {rel_app_authentication_method_role_list};

\cx{kGraytwo}{$(rc.north east)+(0,487.5)$}{0}{$(ud.north west)+(0,49)$}{180}{.. controls (2850,2922) and (3100,3000) .. (3140,3200) .. controls (3150,3270) and (3200,3284) ..}

\cx{kNavytwo}{$(rct.north west)+(79,0)$}{90}{$(rc.north east)+(0,646.5)$}{0}{.. controls (2835,3150) and (2800,3081) ..}
\node[lbl, anchor=west] at (2697,3165) {rel_registration_center_reg_center_type};
\end{pgfonlayer}
\end{tikzpicture}
\end{document}
